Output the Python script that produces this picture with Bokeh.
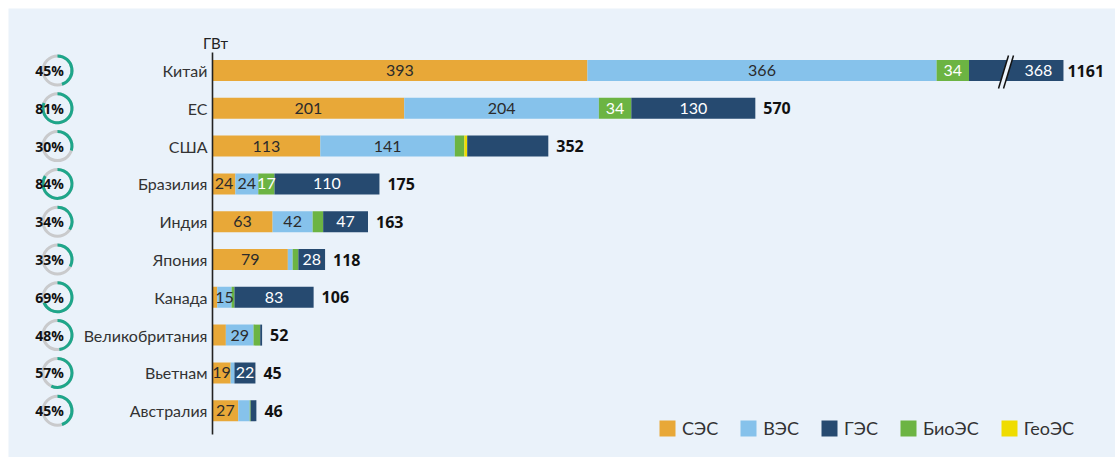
import math
from bokeh.plotting import figure
from bokeh.models import Range1d, Legend, LegendItem, ColumnDataSource
from bokeh.core.properties import value
from bokeh.embed import file_html
from bokeh.resources import INLINE

# ---------------- data ----------------
countries = ["Китай", "ЕС", "США", "Бразилия", "Индия", "Япония", "Канада",
             "Великобритания", "Вьетнам", "Австралия"]
solar = [393, 201, 113, 24, 63, 79, 5, 14, 19, 27]
wind = [366, 204, 141, 24, 42, 5, 15, 29, 4, 12]
bio = [34, 34, 10, 17, 11, 6, 3, 7, 0, 1]
geo = [0, 0, 3, 0, 0, 0, 0, 0, 0, 0]
hydro = [368, 130, 85, 110, 47, 28, 83, 2, 22, 6]
totals = [1161, 570, 352, 175, 163, 118, 106, 52, 45, 46]
share = [45, 81, 30, 84, 34, 33, 69, 48, 57, 45]
series_names = ["СЭС", "ВЭС", "ГЭС", "БиоЭС", "ГеоЭС"]

# ---------------- style ----------------
BG = "#eaf2fa"
COL = {"СЭС": "#e8a838", "ВЭС": "#86c2eb", "ГЭС": "#264a70",
       "БиоЭС": "#6cb443", "ГеоЭС": "#efdc00"}
TXT = {"СЭС": "#2b2b2b", "ВЭС": "#2b2b2b", "ГЭС": "white",
       "БиоЭС": "white", "ГеоЭС": "#2b2b2b"}
FONT = value("Lato")
BOLD_FONT = value("Open Sans")
W, H = 1115, 457
OFF = 8                    # white strip at top/left
PX_PER_GW = 0.954
AXIS_PX = 212 - OFF        # axis position inside the frame
ROW0_PX = 70 - OFF         # first row centre inside the frame
ROW_PX = 37.8
DISPLAY_CAP = 892          # bars longer than this are drawn broken
BREAK_AT = 831

def gx(px):  # page pixel -> data x
    return (px - OFF - AXIS_PX) / PX_PER_GW

def gy(py):  # page pixel -> data y
    return -(py - OFF - ROW0_PX) / ROW_PX

p = figure(width=W, height=H, output_backend="svg", toolbar_location=None,
           x_range=Range1d(gx(OFF), gx(W)), y_range=Range1d(gy(H), gy(OFF)),
           min_border_left=OFF, min_border_top=OFF, min_border_right=0, min_border_bottom=0,
           x_axis_type=None, y_axis_type=None)
p.grid.visible = False
p.outline_line_color = None
p.background_fill_color = BG
p.border_fill_color = "white"

n = len(countries)
ys = [-i for i in range(n)]
bar_h = 21 / ROW_PX

order = [("СЭС", solar), ("ВЭС", wind), ("БиоЭС", bio), ("ГеоЭС", geo), ("ГЭС", hydro)]
cum = [0.0] * n
renderers = {}
lab_x, lab_y, lab_t, lab_c = [], [], [], []
hidden = {("США", "ГЭС")}
for name, vals in order:
    left = cum[:]
    right = [c + v for c, v in zip(cum, vals)]
    dleft = [min(l, DISPLAY_CAP) for l in left]
    dright = [min(r, DISPLAY_CAP) for r in right]
    src = ColumnDataSource(dict(y=ys, left=dleft, right=dright))
    renderers[name] = p.hbar(y="y", left="left", right="right", height=bar_h,
                             source=src, fill_color=COL[name], line_color=None)
    for i in range(n):
        v = vals[i]
        if v >= 15 and (countries[i], name) not in hidden:
            if right[i] > DISPLAY_CAP:
                cx = (BREAK_AT + 8 / PX_PER_GW + DISPLAY_CAP) / 2
            else:
                cx = (dleft[i] + dright[i]) / 2
            lab_x.append(cx); lab_y.append(ys[i]); lab_t.append(str(v)); lab_c.append(TXT[name])
    cum = right

p.text(x=lab_x, y=lab_y, text=lab_t, text_color=lab_c, text_align="center",
       text_baseline="middle", text_font=FONT, text_font_size="16px")

# totals
tot_x = [min(c, DISPLAY_CAP) + (4 if c > DISPLAY_CAP else 8) / PX_PER_GW for c in cum]
p.text(x=tot_x, y=ys, text=[str(t) for t in totals], text_color="#111111",
       text_align="left", text_baseline="middle", text_font=BOLD_FONT,
       text_font_size="16px", text_font_style="bold")

# break mark on the broken bar
dx = 5 / PX_PER_GW
bx0, bx1 = gx(998), gx(1008)
y_lo, y_hi = gy(88), gy(55)
p.patch(x=[bx0, bx1, bx1 + dx, bx0 + dx], y=[y_lo, y_hi, y_hi, y_lo],
        fill_color=BG, line_color=None)
p.segment(x0=[bx0, bx0 + dx], y0=[y_lo, y_lo], x1=[bx1, bx1 + dx], y1=[y_hi, y_hi],
          line_color="#111111", line_width=1.5)

# axis line and unit
p.segment(x0=[0], y0=[gy(52)], x1=[0], y1=[gy(434)], line_color="#222222", line_width=1.6)
p.text(x=[gx(215)], y=[gy(42)], text=["ГВт"], text_align="center",
       text_baseline="middle", text_font=FONT, text_font_size="15px", text_color="#222222")

# country labels
p.text(x=[gx(207)] * n, y=ys, text=countries, text_align="right",
       text_baseline="middle", text_font=FONT, text_font_size="16px", text_color="#333333")

# donuts
dcx = [gx(57)] * n
p.annulus(x=dcx, y=ys, inner_radius=13, outer_radius=16,
          inner_radius_units="screen", outer_radius_units="screen",
          fill_color="#c9cacc", line_color=None)
p.annular_wedge(x=dcx, y=ys, inner_radius=13, outer_radius=16,
                inner_radius_units="screen", outer_radius_units="screen",
                start_angle=[math.pi / 2] * n,
                end_angle=[math.pi / 2 - 2 * math.pi * s / 100 for s in share],
                direction="clock", fill_color="#1ea68a", line_color=None)
p.text(x=[gx(49)] * n, y=ys, text=[f"{s}%" for s in share], text_align="center",
       text_baseline="middle", text_font=BOLD_FONT, text_font_size="14px",
       text_font_style="bold", text_color="#111111")

legend = Legend(items=[LegendItem(label=nm, renderers=[renderers[nm]]) for nm in series_names],
                orientation="horizontal", location=(657 - OFF, H - 439),
                background_fill_alpha=0, border_line_alpha=0, padding=0, margin=0,
                spacing=20, glyph_width=20, glyph_height=20, label_standoff=5,
                label_height=20, label_text_font="Lato", label_text_font_size="18px",
                label_text_color="#333333")
p.add_layout(legend)

open("out.html", "w").write(file_html(p, INLINE))
